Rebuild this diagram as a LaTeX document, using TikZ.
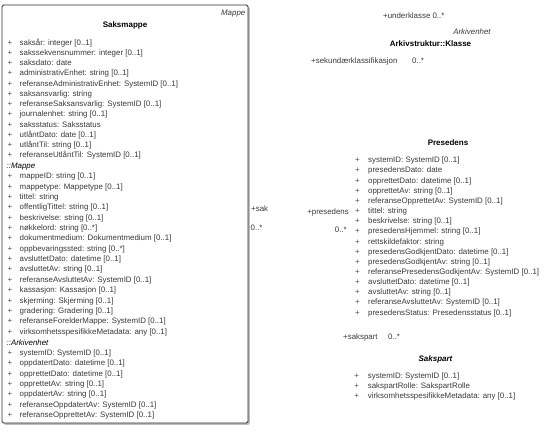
\documentclass[tikz,border=0pt]{standalone}
\usepackage{fontspec}
\setmainfont{Liberation Sans}
\usetikzlibrary{shadows}
\definecolor{attrgray}{HTML}{3A3A3A}
\definecolor{plusgray}{HTML}{505050}
\definecolor{boxline}{HTML}{2E2E2E}
\definecolor{shadowgray}{HTML}{B8BCC4}
\begin{document}
\begin{tikzpicture}[x=1pt,y=-1pt,
  every node/.style={font=\fontsize{7.9}{9}\selectfont, inner sep=0pt,
    text height=5.8pt, text depth=1.6pt},
  attr/.style={anchor=west, text=attrgray},
  plusmark/.style={text=plusgray},
  classtitle/.style={font=\fontsize{8}{9}\selectfont\bfseries},
  stereo/.style={font=\fontsize{7.9}{9}\selectfont\itshape, text=attrgray},
  rolelabel/.style={text=attrgray},
  classbox/.style={draw=boxline, line width=0.9pt, rounded corners=1.5pt, fill=white,
    drop shadow={shadow xshift=1.8pt, shadow yshift=-1.8pt, fill=shadowgray, opacity=1}}
]
\useasboundingbox (0,0) rectangle (553,431);

% Saksmappe class with inherited attributes
\node[classbox, minimum width=246pt, minimum height=418pt] (saksmappe) at (125,214) {};
\node[stereo, anchor=east] (saksmappeStereo) at (245.5,13) {Mappe};
\node[classtitle] (saksmappeTitle) at (125,25.5) {Saksmappe};

\foreach \t [count=\i] in {
  saksår: integer [0..1],
  sakssekvensnummer: integer [0..1],
  saksdato: date,
  administrativEnhet: string [0..1],
  referanseAdministrativEnhet: SystemID [0..1],
  saksansvarlig: string,
  referanseSaksansvarlig: SystemID [0..1],
  journalenhet: string [0..1],
  saksstatus: Saksstatus,
  utlåntDato: date [0..1],
  utlåntTil: string [0..1],
  referanseUtlåntTil: SystemID [0..1]} {
  \node[plusmark] (smPlus\i) at (10,{43+10.25*(\i-1)}) {+};
  \node[attr] (smAttr\i) at (19.5,{43+10.25*(\i-1)}) {\t};
}

\node[stereo, anchor=west, text=black] (mappeHeader) at (6.5,166) {::Mappe};
\foreach \t [count=\i] in {
  mappeID: string [0..1],
  mappetype: Mappetype [0..1],
  tittel: string,
  offentligTittel: string [0..1],
  beskrivelse: string [0..1],
  nøkkelord: string [0..*],
  dokumentmedium: Dokumentmedium [0..1],
  oppbevaringssted: string [0..*],
  avsluttetDato: datetime [0..1],
  avsluttetAv: string [0..1],
  referanseAvsluttetAv: SystemID [0..1],
  kassasjon: Kassasjon [0..1],
  skjerming: Skjerming [0..1],
  gradering: Gradering [0..1],
  referanseForelderMappe: SystemID [0..1],
  virksomhetsspesifikkeMetadata: any [0..1]} {
  \node[plusmark] (mpPlus\i) at (10,{176.7+10.35*(\i-1)}) {+};
  \node[attr] (mpAttr\i) at (19.5,{176.7+10.35*(\i-1)}) {\t};
}

\node[stereo, anchor=west, text=black] (arkivenhetHeader) at (6.5,343.3) {::Arkivenhet};
\foreach \t [count=\i] in {
  systemID: SystemID [0..1],
  oppdatertDato: datetime [0..1],
  opprettetDato: datetime [0..1],
  opprettetAv: string [0..1],
  oppdatertAv: string [0..1],
  referanseOppdatertAv: SystemID [0..1],
  referanseOpprettetAv: SystemID [0..1]} {
  \node[plusmark] (aePlus\i) at (10,{353.3+10.33*(\i-1)}) {+};
  \node[attr] (aeAttr\i) at (19.5,{353.3+10.33*(\i-1)}) {\t};
}

% Arkivstruktur::Klasse and its role labels
\node[rolelabel, anchor=west] (underklasse) at (383,16) {+underklasse 0..*};
\node[stereo] (klasseStereo) at (472,32.5) {Arkivenhet};
\node[classtitle] (klasseTitle) at (430.5,44.5) {Arkivstruktur::Klasse};
\node[rolelabel, anchor=west] (sekundaer) at (311,61) {+sekundærklassifikasjon};
\node[rolelabel, anchor=west] (sekundaerMult) at (412,61) {0..*};

% Association role labels between Saksmappe and Presedens
\node[rolelabel, anchor=west] (sakRole) at (251,209) {+sak};
\node[rolelabel, anchor=west] (sakMult) at (250.5,228) {0..*};
\node[rolelabel, anchor=east] (presedensRole) at (349,212.5) {+presedens};
\node[rolelabel, anchor=east] (presedensMult) at (347,230) {0..*};

% Presedens class
\node[classtitle] (presedensTitle) at (448,143.5) {Presedens};
\foreach \t [count=\i] in {
  systemID: SystemID [0..1],
  presedensDato: date,
  opprettetDato: datetime [0..1],
  opprettetAv: string [0..1],
  referanseOpprettetAv: SystemID [0..1],
  tittel: string,
  beskrivelse: string [0..1],
  presedensHjemmel: string [0..1],
  rettskildefaktor: string,
  presedensGodkjentDato: datetime [0..1],
  presedensGodkjentAv: string [0..1],
  referansePresedensGodkjentAv: SystemID [0..1],
  avsluttetDato: datetime [0..1],
  avsluttetAv: string [0..1],
  referanseAvsluttetAv: SystemID [0..1],
  presedensStatus: Presedensstatus [0..1]} {
  \node[plusmark] (prPlus\i) at (357.3,{160.7+10.15*(\i-1)}) {+};
  \node[attr] (prAttr\i) at (368,{160.7+10.15*(\i-1)}) {\t};
}

% Sakspart class
\node[rolelabel, anchor=west] (sakspartRole) at (343,337) {+sakspart};
\node[rolelabel, anchor=west] (sakspartMult) at (388,337) {0..*};
\node[classtitle, font=\fontsize{8}{9}\selectfont\bfseries\itshape] (sakspartTitle) at (435.5,359) {Sakspart};
\foreach \t [count=\i] in {
  systemID: SystemID [0..1],
  sakspartRolle: SakspartRolle,
  virksomhetsspesifikkeMetadata: any [0..1]} {
  \node[plusmark] (spPlus\i) at (356.7,{376+10.3*(\i-1)}) {+};
  \node[attr] (spAttr\i) at (367.7,{376+10.3*(\i-1)}) {\t};
}
\end{tikzpicture}
\end{document}
